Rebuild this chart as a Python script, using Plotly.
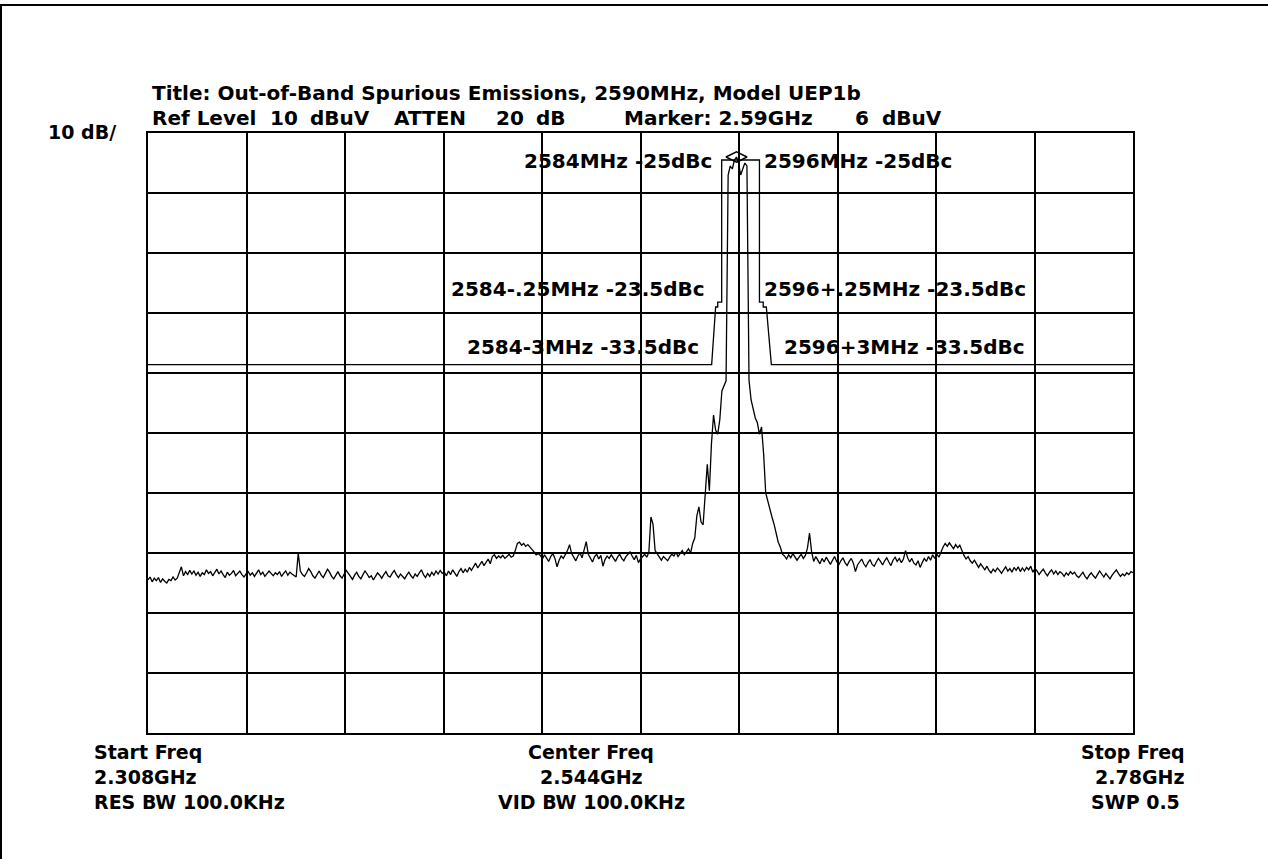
import numpy as np
import plotly.graph_objects as go

# ---------------- data ----------------
start_freq_mhz = 2308
stop_freq_mhz = 2780
step_mhz = 1
ref_level_dbuv = 10
db_per_div = 10

# trace level in dBuV, 1 MHz steps
noise_2308_2379 = [
    -64.5, -64.0, -64.8, -64.2, -64.6, -64.1, -64.9, -64.3, -64.7, -65.0,
    -64.4, -64.6, -64.0, -64.5, -64.2, -63.4, -62.3, -63.8, -63.1, -63.6,
    -62.9, -63.5, -63.0, -63.7, -63.2, -63.9, -63.3, -63.6, -62.8, -63.4,
    -63.1, -63.8, -63.3, -62.7, -63.5, -63.0, -63.6, -64.1, -63.2, -63.7,
    -63.4, -62.9, -63.8, -63.3, -63.0, -63.6, -64.0, -63.5, -63.1, -63.7,
    -63.3, -63.9, -63.4, -62.8, -63.6, -63.2, -63.9, -63.5, -63.0, -63.4,
    -63.8, -63.3, -63.6, -63.1, -63.9, -63.4, -63.0, -63.7, -63.2, -63.5,
    -63.8, -64.0]
noise_2380_2449 = [
    -60.0, -63.0, -63.6, -63.9, -63.3, -62.6, -63.1, -63.8, -64.2, -63.5,
    -63.0, -63.7, -64.1, -63.4, -62.7, -63.2, -63.9, -64.3, -63.6, -63.1,
    -63.8, -64.2, -63.5, -62.9, -63.4, -64.0, -64.4, -63.7, -63.2, -63.9,
    -64.3, -63.6, -63.0, -63.5, -64.1, -63.8, -64.5, -63.9, -63.3, -63.7,
    -64.2, -63.6, -63.1, -63.8, -64.0, -63.4, -62.9, -63.6, -64.1, -63.5,
    -63.9, -64.3, -63.7, -63.2, -63.8, -64.2, -63.5, -63.9, -63.3, -62.8,
    -63.6, -64.1, -63.4, -63.9, -63.2, -63.7, -63.0, -63.5, -62.9, -63.4]
rise_2450_2495 = [
    -63.2, -63.8, -63.0, -63.6, -62.8, -63.4, -63.9, -63.1, -62.6, -63.3,
    -62.7, -63.2, -62.4, -62.9, -62.2, -61.7, -62.5, -62.0, -61.4, -62.1,
    -61.6, -61.0, -61.8, -60.6, -60.3, -60.9, -60.5, -60.8, -60.4, -60.9,
    -60.6, -60.2, -60.7, -60.5, -59.6, -58.4, -58.2, -58.7, -58.4, -58.9,
    -58.6, -59.0, -59.3, -59.8, -60.3, -60.1]
noise_2496_2569 = [
    -60.4, -61.0, -60.3, -60.8, -61.4, -60.6, -60.1, -60.9, -62.3, -61.2,
    -60.5, -60.9, -60.2, -59.6, -58.6, -60.1, -60.7, -61.3, -60.5, -60.0,
    -60.8, -59.3, -58.1, -60.2, -60.9, -61.5, -60.6, -60.2, -61.0, -60.4,
    -62.2, -61.1, -60.5, -60.9, -60.3, -60.8, -61.4, -60.7, -60.2, -60.9,
    -61.3, -60.6, -60.1, -59.8, -60.5, -61.1, -60.4, -61.6, -61.0, -60.6,
    -60.2, -60.7, -59.9, -54.0, -55.2, -59.6, -60.1, -60.8, -61.2, -60.6,
    -60.9, -61.3, -60.7, -60.2, -60.5, -59.9, -60.6, -60.1, -59.6, -60.3,
    -59.8, -59.3, -60.0, -58.4]
skirt_2570_2585 = [
    -57.5, -53.8, -52.3, -54.8, -55.3, -49.8, -45.2, -49.6, -41.8, -37.0,
    -39.5, -40.2, -37.8, -33.0, -32.0, -31.3]
channel_2586_2595 = [3.0, 4.5, 4.0, 5.5, 6.0, 5.0, 3.0, 4.2, 5.0, 4.5]
skirt_2596_2612 = [
    -31.2, -34.5, -35.8, -37.5, -38.3, -40.2, -39.0, -43.5, -50.0, -51.5,
    -52.8, -54.0, -55.2, -56.8, -58.2, -59.0, -60.2]
noise_2613_2689 = [
    -60.5, -61.0, -60.3, -60.8, -60.1, -60.6, -61.2, -60.7, -60.2, -60.9,
    -60.4, -59.2, -56.7, -59.8, -61.4, -60.6, -61.1, -61.8, -60.9, -61.5,
    -60.7, -61.3, -61.9, -61.2, -60.6, -61.4, -62.0, -61.3, -60.8, -61.6,
    -62.1, -61.4, -60.9, -61.7, -63.1, -62.0, -61.5, -61.0, -61.8, -62.3,
    -61.6, -61.1, -61.9, -62.2, -61.5, -60.9, -61.4, -62.0, -61.3, -60.8,
    -61.5, -62.1, -61.2, -60.7, -61.4, -60.9, -61.6, -61.0, -59.6, -60.8,
    -61.5, -60.9, -61.7, -62.0, -61.3, -62.4, -61.6, -60.9, -61.4, -60.6,
    -61.2, -60.3, -60.9, -60.2, -60.7, -59.8, -59.0]
noise_2690_2780 = [
    -58.4, -58.9, -58.3, -58.8, -59.3, -58.6, -59.1, -58.7, -59.6, -60.4,
    -61.0, -60.6, -61.3, -61.7, -61.2, -61.9, -62.4, -61.8, -62.3, -62.8,
    -62.2, -62.9, -63.3, -62.7, -63.1, -62.5, -62.9, -63.4, -62.8, -62.3,
    -63.0, -62.6, -63.2, -62.4, -62.9, -62.3, -63.1, -62.5, -63.0, -62.4,
    -62.8, -62.2, -63.2, -62.6, -63.0, -63.6, -63.1, -62.7, -63.3, -63.8,
    -63.2, -62.8, -63.5, -63.0, -63.6, -63.1, -63.4, -63.9, -63.3, -63.7,
    -63.1, -63.5, -63.2, -63.8, -64.1, -63.6, -63.2, -63.9, -64.3, -63.7,
    -63.3, -63.8, -64.2, -63.6, -63.0, -63.5, -64.0, -63.4, -63.9, -64.3,
    -63.7, -63.2, -62.8, -63.4, -63.9, -63.5, -63.8, -63.3, -63.6, -63.1,
    -63.3]

# emission mask (limit line): frequency in MHz, level in dBuV
mask_freq = [2308, 2578.1, 2580.0, 2581.0, 2581.0, 2582.9, 2582.9,
             2601.0, 2601.0, 2602.8, 2602.8, 2604.3, 2606.7, 2780]
mask_dbuv = [-28.6, -28.6, -19.0, -19.0, -18.2, -18.2, 5.5,
             5.5, -18.2, -18.2, -19.0, -19.0, -28.6, -28.6]

marker_freq = [2590]
marker_dbuv = [6]

mask_labels = ["2584MHz -25dBc", "2596MHz -25dBc",
               "2584-.25MHz -23.5dBc", "2596+.25MHz -23.5dBc",
               "2584-3MHz -33.5dBc", "2596+3MHz -33.5dBc"]

# ---------------- build ----------------
trace_dbuv = (noise_2308_2379 + noise_2380_2449 + rise_2450_2495 + noise_2496_2569
              + skirt_2570_2585 + channel_2586_2595 + skirt_2596_2612
              + noise_2613_2689 + noise_2690_2780)
freq = start_freq_mhz + step_mhz * np.arange(len(trace_dbuv))

W, H = 1268, 859
L, R, T, B = 148, 1133, 133, 733  # plot-area pixel box


def px(x):
    return (x - L) / (R - L)


def py(y):
    return (B - y) / (B - T)


FONT = "DejaVu Sans"

fig = go.Figure()
fig.add_trace(go.Scatter(x=mask_freq, y=mask_dbuv, mode="lines",
                         line=dict(color="black", width=1.3), hoverinfo="skip"))
fig.add_trace(go.Scatter(x=freq, y=trace_dbuv, mode="lines",
                         line=dict(color="black", width=1.3), hoverinfo="skip"))
fig.add_trace(go.Scatter(x=marker_freq, y=marker_dbuv, mode="markers",
                         marker=dict(symbol="diamond-wide-open", size=15, color="black",
                                     line=dict(width=1.4, color="black")),
                         hoverinfo="skip"))

anns = []


def ann(text, x, y, anchor="left", size=20):
    anns.append(dict(text="<b>" + text + "</b>", x=px(x), y=py(y), xref="paper", yref="paper",
                     xanchor=anchor, yanchor="middle", showarrow=False,
                     font=dict(family=FONT, size=size, color="black")))


# header
ann("Title: Out-of-Band Spurious Emissions, 2590MHz, Model UEP1b", 150, 93, size=20)
for t, x in [("Ref Level", 150), ("10", 268), ("dBuV", 308), ("ATTEN", 392), ("20", 494),
             ("dB", 534), ("Marker: 2.59GHz", 622), ("6", 853), ("dBuV", 880)]:
    ann(t, x, 118, size=20)
ann("10 dB/", 118, 132, anchor="right", size=19)

# mask labels
ann(mask_labels[0], 714, 161, anchor="right")
ann(mask_labels[1], 762, 161, anchor="left")
ann(mask_labels[2], 707, 289, anchor="right")
ann(mask_labels[3], 762, 289, anchor="left")
ann(mask_labels[4], 701, 347, anchor="right")
ann(mask_labels[5], 782, 347, anchor="left")

# footer
rows_y = [752, 777, 802]
ann("Start Freq", 92, rows_y[0], size=19)
ann("2.308GHz", 92, rows_y[1], size=19)
ann("RES BW 100.0KHz", 92, rows_y[2], size=19)
ann("Center Freq", 591, rows_y[0], anchor="center", size=19)
ann("2.544GHz", 591, rows_y[1], anchor="center", size=19)
ann("VID BW 100.0KHz", 591, rows_y[2], anchor="center", size=19)
ann("Stop Freq", 1187, rows_y[0], anchor="right", size=19)
ann("2.78GHz", 1186, rows_y[1], anchor="right", size=19)
ann("SWP 0.5", 1182, rows_y[2], anchor="right", size=19)

# outer frame (top and left edges visible in the picture)
shapes = [
    dict(type="line", xref="paper", yref="paper", x0=px(0), x1=px(W), y0=py(5), y1=py(5),
         line=dict(color="black", width=2)),
    dict(type="line", xref="paper", yref="paper", x0=px(1), x1=px(1), y0=py(5), y1=py(H + 5),
         line=dict(color="black", width=2)),
]

fig.update_layout(
    width=W, height=H, autosize=False,
    margin=dict(l=L, r=W - R, t=T, b=H - B, pad=0),
    paper_bgcolor="white", plot_bgcolor="white",
    showlegend=False,
    annotations=anns, shapes=shapes,
    xaxis=dict(range=[start_freq_mhz, stop_freq_mhz], tick0=start_freq_mhz,
               dtick=(stop_freq_mhz - start_freq_mhz) / 10,
               showgrid=True, gridcolor="black", gridwidth=1.6, zeroline=False,
               showline=True, linecolor="black", linewidth=2, mirror=True,
               showticklabels=False, ticks=""),
    yaxis=dict(range=[ref_level_dbuv - 10 * db_per_div, ref_level_dbuv],
               tick0=ref_level_dbuv, dtick=db_per_div,
               showgrid=True, gridcolor="black", gridwidth=1.6, zeroline=False,
               showline=True, linecolor="black", linewidth=2, mirror=True,
               showticklabels=False, ticks=""),
)

fig.write_html("out.html")
